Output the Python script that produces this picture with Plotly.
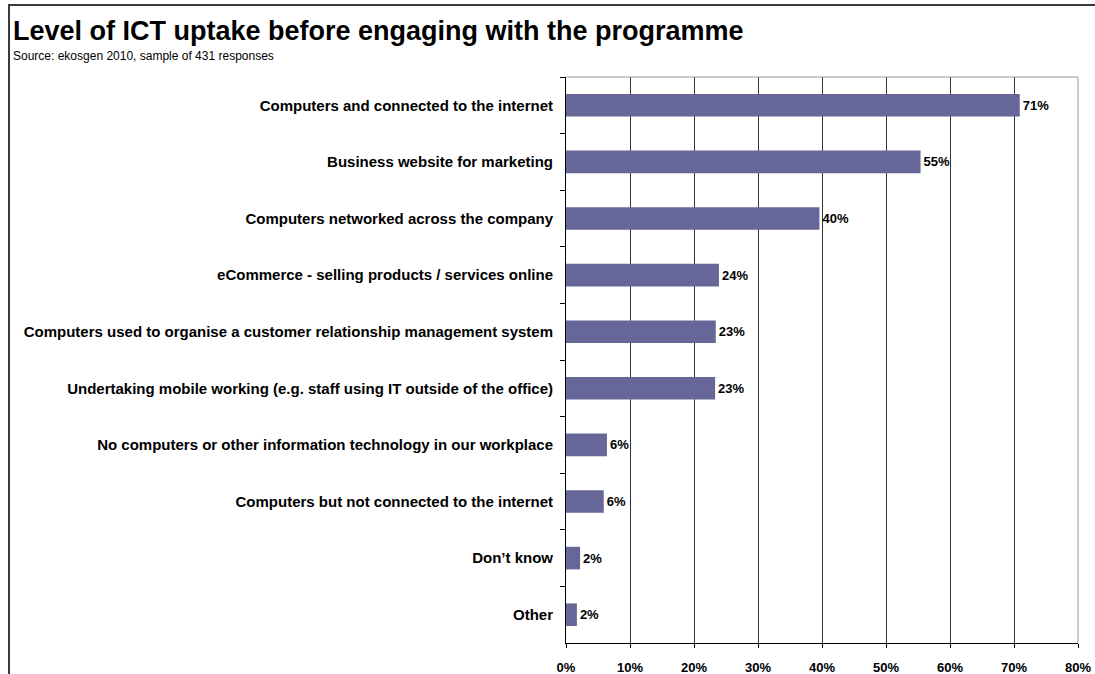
import plotly.graph_objects as go

# Survey responses, listed top to bottom
categories = [
    "Computers and connected to the internet",
    "Business website for marketing",
    "Computers networked across the company",
    "eCommerce - selling products / services online",
    "Computers used to organise a customer relationship management system",
    "Undertaking mobile working (e.g. staff using IT outside of the office)",
    "No computers or other information technology in our workplace",
    "Computers but not connected to the internet",
    "Don\u2019t know",
    "Other",
]
shares = [70.9, 55.4, 39.6, 23.9, 23.4, 23.3, 6.4, 5.9, 2.2, 1.7]
x_ticks = [0, 10, 20, 30, 40, 50, 60, 70, 80]
x_tick_labels = ["0%", "10%", "20%", "30%", "40%", "50%", "60%", "70%", "80%"]

title_text = "Level of ICT uptake before engaging with the programme"
subtitle_text = "Source: ekosgen 2010, sample of 431 responses"

W, H = 1095, 674
L, R, T, B = 566, 17, 77, 31
plot_w = W - L - R
plot_h = H - T - B


def px_x(px):
    return (px - L) / plot_w


def px_y(py):
    return (H - B - py) / plot_h


FONT = "Liberation Sans, Arial, sans-serif"

fig = go.Figure()
fig.add_bar(
    x=shares,
    y=categories,
    orientation="h",
    marker=dict(color="#666699", line=dict(width=0)),
    width=0.4,
    text=shares,
    texttemplate="%{x:.0f}%",
    textposition="outside",
    textfont=dict(family=FONT, size=13, color="black", weight="bold"),
    cliponaxis=False,
    hoverinfo="skip",
)

fig.update_layout(
    width=W,
    height=H,
    margin=dict(l=L, r=R, t=T, b=B, autoexpand=False),
    paper_bgcolor="white",
    plot_bgcolor="white",
    showlegend=False,
    font=dict(family=FONT, color="black"),
    uniformtext=dict(mode=False),
    xaxis=dict(
        range=[0, 80],
        tickvals=x_ticks,
        ticktext=x_tick_labels,
        showgrid=True,
        gridcolor="#333333",
        gridwidth=1,
        zeroline=False,
        showline=True,
        linecolor="#000000",
        linewidth=1,
        ticks="outside",
        ticklen=4,
        tickcolor="#000000",
        ticklabelstandoff=8,
        tickfont=dict(family=FONT, size=13, color="black", weight="bold"),
        automargin=False,
        fixedrange=True,
    ),
    yaxis=dict(
        type="category",
        autorange="reversed",
        tickson="boundaries",
        ticks="outside",
        ticklen=5,
        tickcolor="#000000",
        ticklabelstandoff=9,
        showgrid=False,
        showline=True,
        linecolor="#000000",
        linewidth=1,
        tickfont=dict(family=FONT, size=15, color="black", weight="bold"),
        automargin=False,
        fixedrange=True,
    ),
    bargap=0.6,
)

# Grey frame on the top and right of the plotting area
fig.add_shape(type="line", xref="paper", yref="paper", x0=0, x1=1, y0=1, y1=1,
              line=dict(color="#999999", width=1), layer="above")
fig.add_shape(type="line", xref="paper", yref="paper", x0=1, x1=1, y0=0, y1=1,
              line=dict(color="#999999", width=1), layer="above")

# Outer chart border (runs off the right and bottom edges)
fig.add_shape(type="rect", xref="paper", yref="paper",
              x0=px_x(9), x1=px_x(W + 20), y0=px_y(H + 20), y1=px_y(5),
              line=dict(color="#3a3a3a", width=2), layer="below")

fig.add_annotation(
    text=f"<b>{title_text}</b>", xref="paper", yref="paper",
    x=px_x(11), y=px_y(31), xanchor="left", yanchor="middle",
    showarrow=False, font=dict(family=FONT, size=27, color="black"),
)
fig.add_annotation(
    text=subtitle_text, xref="paper", yref="paper",
    x=px_x(11), y=px_y(56), xanchor="left", yanchor="middle",
    showarrow=False, font=dict(family=FONT, size=12, color="black"),
)

fig.write_html("out.html")
